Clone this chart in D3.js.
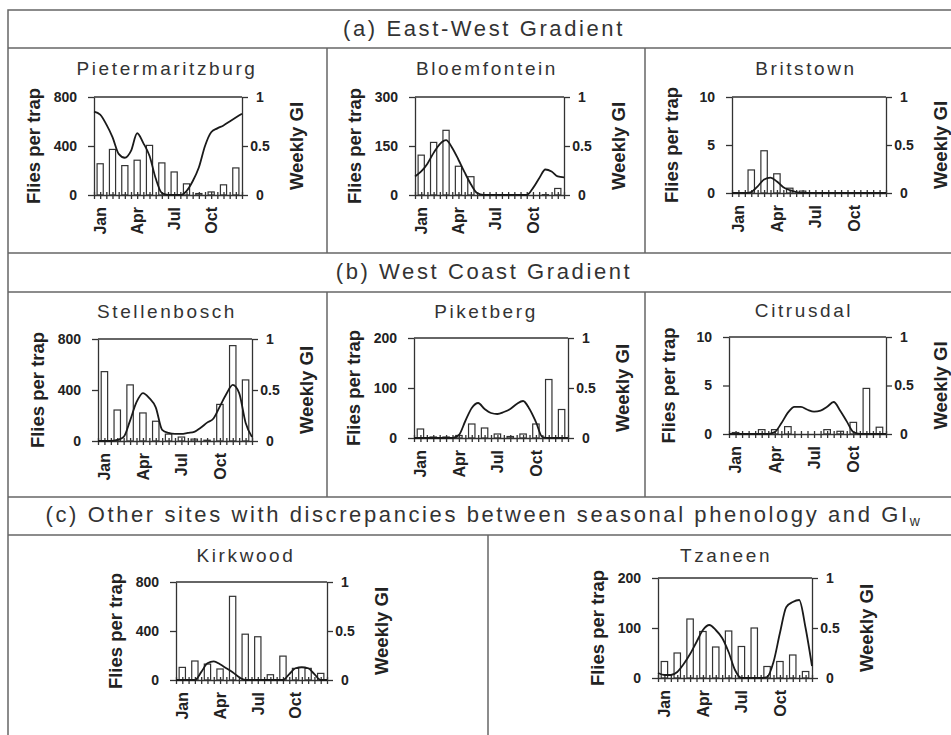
<!DOCTYPE html>
<html><head><meta charset="utf-8">
<script src="https://cdn.jsdelivr.net/npm/d3@7"></script>
<style>body{margin:0;background:#fff} svg{display:block}</style>
</head><body>
<svg id="c" width="951" height="735"></svg>
<script>
// ---------------- DATA ----------------
const monthCats = ["Jan","Feb","Mar","Apr","May","Jun","Jul","Aug","Sep","Oct","Nov","Dec"];
const monthTickLabels = ["Jan","Apr","Jul","Oct"];
// GI sampling positions (months from 1 Jan)
const giPos = [0,0.5,1,1.5,2,2.5,3,3.5,4,4.5,5,5.5,6,6.5,7,7.5,8,8.5,9,9.5,10,10.5,11,11.5,12];
const sectionTitles = ["(a) East-West Gradient","(b) West Coast Gradient","(c) Other sites with discrepancies between seasonal phenology and GI"];
const sectionSub = ["","","w"];
const siteNames = ["Pietermaritzburg","Bloemfontein","Britstown","Stellenbosch","Piketberg","Citrusdal","Kirkwood","Tzaneen"];
const fliesMax = [800,300,10,800,200,10,800,200];
const fliesTicks = [[0,400,800],[0,150,300],[0,5,10],[0,400,800],[0,100,200],[0,5,10],[0,400,800],[0,100,200]];
const giTicks = [0,0.5,1];
const giTickLabels = ["0","0.5","1"];
const yTitleLeft = "Flies per trap";
const yTitleRight = "Weekly GI";

const pmbFlies    = [255,372,240,284,405,262,188,91,12,25,83,221];
const bloemFlies  = [122,161,198,88,56,1,0,0,0,0,1,20];
const britFlies   = [0,2.4,4.4,2.0,0.5,0.2,0,0,0,0,0,0];
const stelFlies   = [544,243,440,220,155,54,31,15,6,287,748,479];
const piketFlies  = [18,2,2,5,28,20,8,3,8,28,117,57];
const citrusFlies = [0.15,0,0.45,0.45,0.76,0,0,0.45,0.28,1.2,4.7,0.7];
const kirkFlies   = [103,155,130,90,683,374,353,43,195,95,95,54];
const tzanFlies   = [33,50,118,93,62,94,63,100,23,33,46,13];

const pmbGI    = [0.85,0.82,0.72,0.59,0.42,0.38,0.45,0.63,0.53,0.40,0.17,0.02,0,0,0,0.04,0.14,0.28,0.50,0.64,0.68,0.71,0.75,0.79,0.83];
const bloemGI  = [0.19,0.24,0.32,0.43,0.52,0.56,0.48,0.36,0.23,0.11,0.02,0,0,0,0,0,0,0,0,0.07,0.17,0.26,0.24,0.19,0.18];
const britGI   = [0,0,0,0.01,0.07,0.14,0.16,0.12,0.06,0.03,0.01,0,0,0,0,0,0,0,0,0,0,0,0,0,0];
const stelGI   = [0,0,0,0.01,0.04,0.20,0.38,0.47,0.42,0.33,0.11,0.08,0.07,0.07,0.08,0.09,0.13,0.18,0.22,0.34,0.46,0.55,0.47,0.18,0.04];
const piketGI  = [0,0,0,0,0,0,0,0.03,0.17,0.30,0.35,0.29,0.25,0.24,0.26,0.29,0.34,0.37,0.29,0.16,0.01,0,0,0,0];
const citrusGI = [0,0,0,0,0,0,0,0.02,0.11,0.22,0.28,0.28,0.25,0.23,0.24,0.28,0.33,0.24,0.13,0.02,0,0,0,0,0];
const kirkGI   = [0,0,0,0,0.08,0.17,0.19,0.16,0.12,0.08,0.03,0,0,0,0,0,0,0,0.06,0.12,0.13,0.12,0.06,0,0];
const tzanGI   = [0.05,0.03,0.03,0.06,0.14,0.24,0.36,0.48,0.53,0.48,0.40,0.26,0.08,0,0,0,0,0.01,0.16,0.45,0.71,0.76,0.78,0.50,0.12];

const fliesData = [pmbFlies,bloemFlies,britFlies,stelFlies,piketFlies,citrusFlies,kirkFlies,tzanFlies];
const giData = [pmbGI,bloemGI,britGI,stelGI,piketGI,citrusGI,kirkGI,tzanGI];

// ---------------- LAYOUT ----------------
const FONT = "'Liberation Sans', Arial, Helvetica, sans-serif";
const hLines = [48,253,292,497,535];
const vLines = [[327,48,253],[645,48,253],[327,292,497],[645,292,497],[488,535,740]];
const headerY = [36,279,522];
const headerX = 484;
const plots = [
  {x0:94,  x1:242, y0:97,  y1:195, tx:167, ty:75},
  {x0:415, x1:564, y0:97,  y1:195, tx:487, ty:75},
  {x0:732, x1:886, y0:97,  y1:193, tx:806, ty:75},
  {x0:98,  x1:252, y0:339, y1:441, tx:167, ty:318},
  {x0:414, x1:568, y0:338, y1:438, tx:486, ty:318},
  {x0:729, x1:886, y0:337, y1:434, tx:804, ty:317},
  {x0:176, x1:327, y0:582, y1:680, tx:246, ty:562},
  {x0:658, x1:812, y0:578, y1:678, tx:726, ty:562}
];

const svg = d3.select("#c").style("font-family",FONT);
const frameCol = "#666";
svg.append("rect").attr("x",8).attr("y",10).attr("width",960).attr("height",760)
  .attr("fill","none").attr("stroke",frameCol).attr("stroke-width",1.5);
hLines.forEach(y=>svg.append("line").attr("x1",8).attr("x2",960).attr("y1",y).attr("y2",y)
  .attr("stroke",frameCol).attr("stroke-width",1.5));
vLines.forEach(v=>svg.append("line").attr("x1",v[0]).attr("x2",v[0]).attr("y1",v[1]).attr("y2",v[2])
  .attr("stroke",frameCol).attr("stroke-width",1.5));

sectionTitles.forEach((t,i)=>{
  const tx = svg.append("text").attr("x",headerX).attr("y",headerY[i]).attr("text-anchor","middle")
    .attr("font-size",22).style("letter-spacing","2.6px").attr("fill","#333").text(t);
  if(sectionSub[i]) tx.append("tspan").attr("font-size",14).attr("dy",4).text(sectionSub[i]);
});

const axisCol = "#333";
plots.forEach((p,i)=>{
  const g = svg.append("g");
  const x = d3.scaleBand().domain(monthCats).range([p.x0,p.x1]);
  const xl = d3.scaleLinear().domain([0,12]).range([p.x0,p.x1]);
  const y = d3.scaleLinear().domain([0,fliesMax[i]]).range([p.y1,p.y0]);
  const y2 = d3.scaleLinear().domain([0,1]).range([p.y1,p.y0]);

  // title
  g.append("text").attr("x",p.tx).attr("y",p.ty).attr("text-anchor","middle")
    .attr("font-size",19).style("letter-spacing","2.6px").attr("fill","#333").text(siteNames[i]);

  // bars
  g.selectAll("rect.bar").data(fliesData[i]).join("rect").attr("class","bar")
    .attr("x",(d,j)=>x(monthCats[j])+x.bandwidth()*0.25)
    .attr("width",x.bandwidth()*0.5)
    .attr("y",d=>y(d)).attr("height",d=>y(0)-y(d))
    .attr("fill","#fff").attr("stroke","#333").attr("stroke-width",1.2);

  // top frame line
  g.append("line").attr("x1",p.x0).attr("x2",p.x1).attr("y1",p.y0).attr("y2",p.y0)
    .attr("stroke",axisCol).attr("stroke-width",1.3);

  // left axis
  const la = g.append("g").attr("transform",`translate(${p.x0},0)`)
    .call(d3.axisLeft(y).tickValues(fliesTicks[i]).tickSize(6).tickSizeOuter(0).tickPadding(11));
  // right axis
  const ra = g.append("g").attr("transform",`translate(${p.x1},0)`)
    .call(d3.axisRight(y2).tickValues(giTicks).tickFormat((d,k)=>giTickLabels[k]).tickSize(6).tickSizeOuter(0).tickPadding(5));
  ra.selectAll("text").attr("text-anchor","middle").attr("x",18);
  // bottom axis ticks (half-month)
  const ba = g.append("g").attr("transform",`translate(0,${p.y1})`)
    .call(d3.axisBottom(xl).tickValues(giPos).tickSize(4).tickSizeOuter(0).tickFormat(""));
  ba.selectAll(".tick line").attr("y1",-3);
  // month labels
  const ma = g.append("g").attr("transform",`translate(0,${p.y1})`)
    .call(d3.axisBottom(x).tickValues(monthTickLabels).tickSize(0).tickPadding(0));
  ma.select(".domain").remove();
  ma.selectAll("text").attr("transform","rotate(-90)").attr("x",-12).attr("y",0)
    .attr("dy","0.36em").attr("text-anchor","end").attr("font-size",16);

  [la,ra,ba,ma].forEach(a=>{
    a.selectAll("path,line").attr("stroke",axisCol).attr("stroke-width",1.3);
    a.selectAll("text").attr("fill","#222").attr("font-weight","bold").style("font-family",FONT);
  });
  la.selectAll("text").attr("font-size",14);
  ra.selectAll("text").attr("font-size",14);

  // GI line
  const line = d3.line().x((d,j)=>xl(giPos[j])).y(d=>y2(d)).curve(d3.curveMonotoneX);
  g.append("path").datum(giData[i]).attr("d",line).attr("fill","none")
    .attr("stroke","#1a1a1a").attr("stroke-width",1.8);

  // axis titles
  const my = (p.y0+p.y1)/2;
  g.append("text").attr("transform",`translate(${p.x0-61},${my}) rotate(-90)`)
    .attr("text-anchor","middle").attr("dy","0.36em").attr("font-size",18.5).attr("font-weight","bold")
    .attr("fill","#222").text(yTitleLeft);
  g.append("text").attr("transform",`translate(${p.x1+54},${my}) rotate(-90)`)
    .attr("text-anchor","middle").attr("dy","0.36em").attr("font-size",18.5).attr("font-weight","bold")
    .attr("fill","#222").text(yTitleRight);
});
</script>
</body></html>
